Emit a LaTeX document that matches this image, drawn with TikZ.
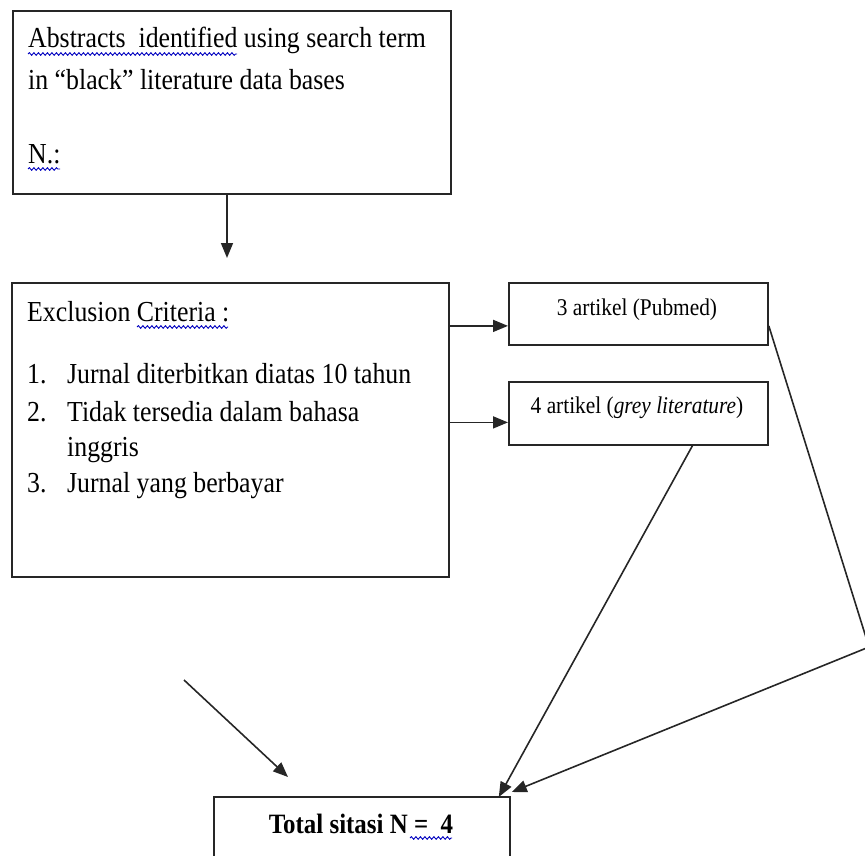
\documentclass[tikz,border=0pt]{standalone}
\usepackage{fontspec}
\setmainfont{Liberation Serif}[FakeStretch=0.89]
\usetikzlibrary{arrows.meta,calc,decorations.pathmorphing}
\begin{document}
\begin{tikzpicture}[x=1pt,y=-1pt,
 box/.style={draw=black!85, line width=1.8pt, inner sep=0pt, anchor=north west},
 txt/.style={inner sep=0pt, anchor=base west, font=\fontsize{29}{34}\selectfont},
 small/.style={inner sep=0pt, anchor=base, font=\fontsize{24}{28}\selectfont},
 arr/.style={line width=1.6pt, draw=black!85, -{Triangle[length=15pt,width=12pt]}},
 conn/.style={line width=1.6pt, draw=black!85},
 wavy/.style={draw=blue!75!black, line width=0.9pt, decorate, decoration={snake, amplitude=1.3pt, segment length=4.5pt}}]
\useasboundingbox (0,0) rectangle (865,856);
\clip (0,0) rectangle (865,856);

% boxes
\node[box, minimum width=438pt, minimum height=183pt] (b1) at (12,10) {};
\node[box, minimum width=437pt, minimum height=294pt] (b2) at (11,282) {};
\node[box, minimum width=259pt, minimum height=62pt] (b3) at (508,282) {};
\node[box, minimum width=259pt, minimum height=63pt] (b4) at (508,381) {};
\node[box, minimum width=296pt, minimum height=80pt] (tot) at (213,796) {};

% texts box 1
\node[txt] (t1a) at (28,48) {Abstracts\ \ identified using search term};
\node[txt] (t1b) at (28,90) {in “black” literature data bases};
\node[txt] (t1c) at (28,164) {N.:};
% texts box 2
\node[txt] (t2a) at (27,321) {Exclusion Criteria :};
\node[txt] (n1) at (27,383) {1.};
\node[txt] (i1) at (67,383) {Jurnal diterbitkan diatas 10 tahun};
\node[txt] (n2) at (27,421) {2.};
\node[txt] (i2) at (67,421) {Tidak tersedia dalam bahasa};
\node[txt] (i2b) at (67,456) {inggris};
\node[txt] (n3) at (27,492) {3.};
\node[txt] (i3) at (67,492) {Jurnal yang berbayar};
% small boxes
\node[small] (t3) at (637,315) {3 artikel (Pubmed)};
\node[small] (t4) at (637,413) {4 artikel (\textit{grey literature})};
% total
\node[txt, anchor=base, font=\fontsize{28}{32}\selectfont\bfseries] (tt) at (361,833) {Total sitasi N =\ \ 4};

% spell-check underlines
\draw[wavy] (28,54) -- (237,54);
\draw[wavy] (28,169) -- (60,169);
\draw[wavy] (137,327) -- (228,327);
\draw[wavy] (410,838) -- (452,838);

% connectors
\coordinate (a1end) at (227,258);
\draw[arr] (b1.south -| a1end) -- (a1end);

\coordinate (p3) at ([yshift=-12pt]b3.west);
\coordinate (p4) at ([yshift=-9pt]b4.west);
\draw[arr] (b2.east |- p3) -- (p3);
\draw[arr] (b2.east |- p4) -- (p4);

\coordinate (fs) at (184,680);
\coordinate (fe) at (288,777);
\draw[arr] (fs) -- (fe);

\coordinate (b4out) at ($(b4.south west)!0.707!(b4.south east)$);
\draw[arr] (b4out) -- ([xshift=-12pt,yshift=-1pt]tot.north east);

\coordinate (corner) at (869,647);
\draw[conn] ([yshift=-12pt]b3.east) -- (corner);
\draw[arr] (corner) -- ([xshift=1pt,yshift=4pt]tot.north east);
\end{tikzpicture}
\end{document}
